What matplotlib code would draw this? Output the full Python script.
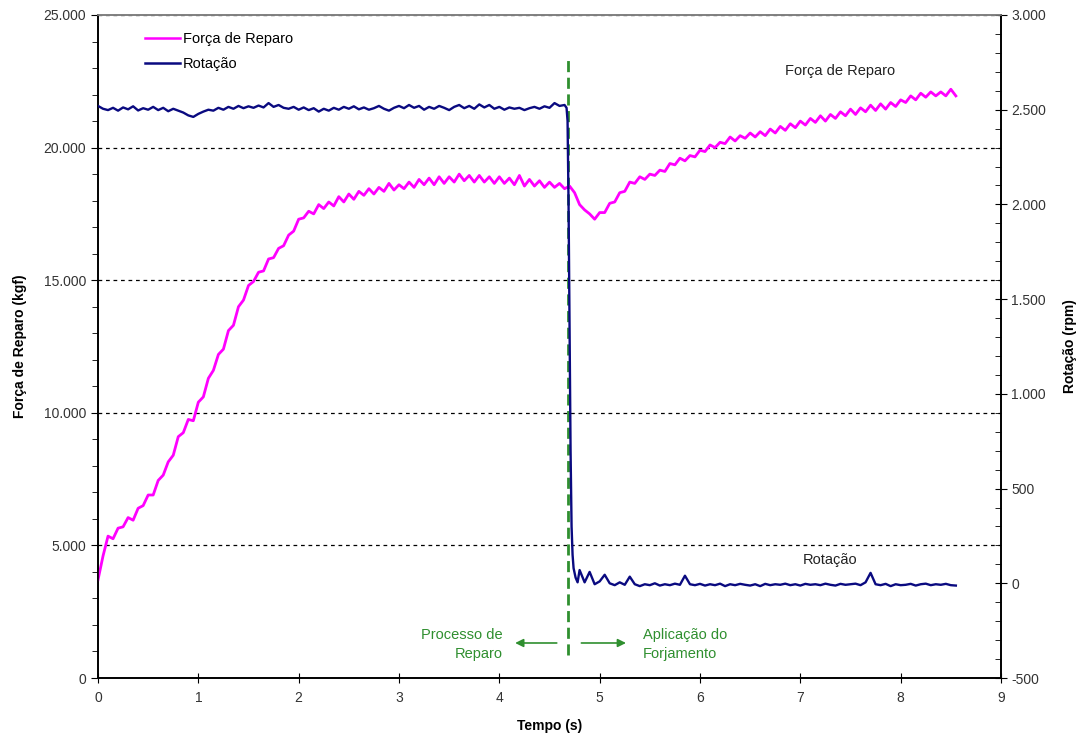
import numpy as np
import matplotlib
matplotlib.use("Agg")
import matplotlib.pyplot as plt
from matplotlib.ticker import MultipleLocator, FuncFormatter
from matplotlib.lines import Line2D

plt.rcParams['font.family'] = ['Liberation Sans', 'DejaVu Sans']

# Força de Reparo (kgf), amostrada a cada 0,05 s de 0 a 8,55 s
tempo_forca = np.round(np.arange(0, 8.551, 0.05), 2)
forca = [
    3700, 4600, 5350, 5250, 5650, 5700, 6050, 5950, 6400, 6500,
    6900, 6900, 7450, 7650, 8150, 8400, 9100, 9250, 9750, 9700,
    10400, 10600, 11300, 11600, 12200, 12400, 13100, 13300, 14000, 14250,
    14800, 14950, 15300, 15350, 15800, 15850, 16200, 16300, 16700, 16850,
    17300, 17350, 17600, 17500, 17850, 17700, 17950, 17800, 18150, 17950,
    18250, 18050, 18350, 18200, 18450, 18250, 18500, 18350, 18650, 18400,
    18600, 18450, 18700, 18500, 18800, 18600, 18850, 18600, 18900, 18650,
    18900, 18700, 19000, 18750, 18950, 18700, 18950, 18700, 18900, 18650,
    18900, 18650, 18850, 18600, 18950, 18550, 18800, 18550, 18750, 18500,
    18700, 18500, 18650, 18450, 18550, 18300, 17850, 17650, 17500, 17300,
    17550, 17550, 17900, 17950, 18300, 18350, 18700, 18650, 18900, 18800,
    19000, 18950, 19150, 19100, 19400, 19350, 19600, 19500, 19700, 19650,
    19900, 19850, 20100, 20000, 20200, 20150, 20400, 20250, 20450, 20350,
    20550, 20400, 20600, 20450, 20700, 20550, 20800, 20650, 20900, 20750,
    21000, 20850, 21100, 20950, 21200, 21000, 21250, 21100, 21350, 21200,
    21450, 21250, 21500, 21350, 21600, 21400, 21650, 21450, 21700, 21550,
    21800, 21700, 21950, 21800, 22050, 21900, 22100, 21950, 22100, 21950,
    22200, 21950,
]

# Rotação (rpm): antes da queda (0 a 4,65 s), queda, depois (4,80 a 8,55 s)
tempo_rot_antes = np.round(np.arange(0, 4.651, 0.05), 2)
rot_antes = [
    2520, 2505, 2498, 2510, 2495, 2512, 2502, 2518, 2496, 2508,
    2500, 2515, 2498, 2510, 2492, 2505, 2495, 2485, 2470, 2462,
    2478, 2490, 2500, 2495, 2510, 2500, 2515, 2505, 2520, 2508,
    2518, 2510, 2522, 2512, 2535, 2515, 2525, 2510, 2505, 2515,
    2500, 2512, 2498, 2508, 2490, 2505, 2495, 2510, 2500, 2515,
    2505, 2518, 2502, 2512, 2500, 2508, 2520, 2505, 2495, 2510,
    2520, 2508, 2525, 2510, 2520, 2500, 2515, 2505, 2520, 2510,
    2498, 2515, 2525, 2508, 2520, 2505, 2528, 2512, 2525, 2505,
    2515, 2500, 2512, 2505, 2510, 2498, 2508, 2515, 2505, 2518,
    2510, 2535, 2520, 2525,
]
tempo_rot_queda = [4.67, 4.68, 4.69, 4.70, 4.71, 4.72, 4.73, 4.74, 4.76, 4.78]
rot_queda = [2510, 2440, 2000, 1350, 700, 300, 150, 80, 30, 5]
tempo_rot_depois = np.round(np.arange(4.80, 8.551, 0.05), 2)
rot_depois = [
    70, 5, 60, -5, 10, 45, 0, -10, 5, -8,
    35, -5, -15, -5, -10, 0, -12, -5, -10, -2,
    -8, 40, -5, -10, -3, -12, -5, -10, -2, -15,
    -5, -10, -3, -8, -12, -5, -15, -3, -10, -5,
    -8, -2, -10, -5, -12, -3, -8, -5, -10, -2,
    -8, -12, -3, -8, -5, -2, -10, 5, 55, -5,
    -10, -3, -15, -5, -10, -8, -3, -12, -5, -2,
    -10, -5, -8, -3, -10, -12,
]

tempo_rot = np.concatenate([tempo_rot_antes, tempo_rot_queda, tempo_rot_depois])
rotacao = np.concatenate([rot_antes, rot_queda, rot_depois])

t_forjamento = 4.685
verde = '#2f8f2f'
cor_tick = '#333333'


def milhar(v, pos):
    return f"{int(round(v)):,}".replace(",", ".")


fig = plt.figure(figsize=(10.84, 7.42), dpi=100)
ax = fig.add_axes([98 / 1084, 1 - 678 / 742, 903 / 1084, 663 / 742])
ax2 = ax.twinx()

ax.set_xlim(0, 9)
ax.set_ylim(0, 25000)
ax2.set_ylim(-500, 3000)

ax.xaxis.set_major_locator(MultipleLocator(1))
ax.yaxis.set_major_locator(MultipleLocator(5000))
ax.yaxis.set_minor_locator(MultipleLocator(1000))
ax2.yaxis.set_major_locator(MultipleLocator(500))
ax2.yaxis.set_minor_locator(MultipleLocator(100))
ax.yaxis.set_major_formatter(FuncFormatter(milhar))
ax2.yaxis.set_major_formatter(FuncFormatter(milhar))

# linhas de grade pontilhadas
for v in ax.get_yticks()[1:-1]:
    ax.axhline(v, color='black', lw=0.9, ls=(0, (3, 3)), zorder=1)

ax.plot(tempo_forca, forca, color='#ff00ff', lw=2.0, zorder=3)
ax2.plot(tempo_rot, rotacao, color='#0a0a80', lw=1.7, zorder=3)

ax.plot([t_forjamento, t_forjamento], [870, 23400], color=verde, lw=2.0,
        ls=(0, (4, 2)), zorder=2)

ax.tick_params(axis='y', which='major', direction='out', length=5,
               labelsize=10, labelcolor=cor_tick)
ax.tick_params(axis='y', which='minor', direction='out', length=4)
ax.tick_params(axis='x', which='major', direction='inout', length=7,
               labelsize=10, labelcolor=cor_tick, pad=6)
ax2.tick_params(axis='y', which='major', direction='inout', length=8,
                labelsize=10, labelcolor=cor_tick)
ax2.tick_params(axis='y', which='minor', direction='in', length=4)

for a in (ax, ax2):
    a.spines['top'].set_color('#808080')
    a.spines['top'].set_linewidth(1.2)
    for s in ('left', 'right', 'bottom'):
        a.spines[s].set_linewidth(1.2)

ax.set_xlabel('Tempo (s)', fontsize=10, fontweight='bold', labelpad=10)
ax.set_ylabel('Força de Reparo (kgf)', fontsize=10, fontweight='bold', labelpad=12)
ax2.set_ylabel('Rotação (rpm)', fontsize=10, fontweight='bold', rotation=90,
               labelpad=12)

# textos internos
ax.text(4.03, 1280, 'Processo de\nReparo', color=verde, fontsize=10.5,
        ha='right', va='center', multialignment='right', linespacing=1.45)
ax.text(5.43, 1280, 'Aplicação do\nForjamento', color=verde, fontsize=10.5,
        ha='left', va='center', multialignment='left', linespacing=1.45)
ax.annotate('', xy=(4.13, 1320), xytext=(4.60, 1320),
            arrowprops=dict(arrowstyle='-|>', color=verde, lw=1.2, mutation_scale=12))
ax.annotate('', xy=(5.29, 1320), xytext=(4.79, 1320),
            arrowprops=dict(arrowstyle='-|>', color=verde, lw=1.2, mutation_scale=12))
ax.text(7.40, 22900, 'Força de Reparo', color='#222222', fontsize=10.5,
        ha='center', va='center')
ax2.text(7.30, 125, 'Rotação', color='#222222', fontsize=10.5,
         ha='center', va='center')

handles = [Line2D([], [], color='#ff00ff', lw=1.8),
           Line2D([], [], color='#0a0a80', lw=1.8)]
ax2.legend(handles, ['Força de Reparo', 'Rotação'], loc='upper left',
           bbox_to_anchor=(0.044, 0.985), frameon=False, fontsize=10.5,
           handlelength=2.4, handletextpad=0.2, labelspacing=0.75, borderpad=0)

fig.savefig('out.png', dpi=100)
